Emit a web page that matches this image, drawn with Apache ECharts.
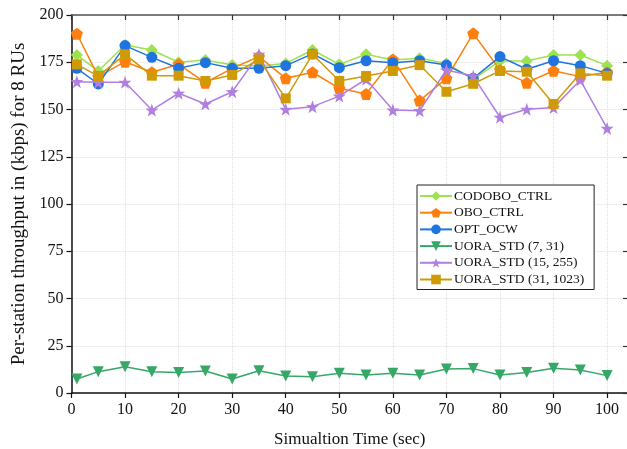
<!DOCTYPE html>
<html>
<head>
<meta charset="utf-8">
<script src="https://cdn.jsdelivr.net/npm/echarts@6/dist/echarts.min.js"></script>
<style>
  html, body { margin: 0; padding: 0; background: #fff; }
  #chart { width: 627px; height: 449px; }
</style>
</head>
<body>
<div id="chart"></div>
<script>
// Simulation time samples (sec)
var times = [1, 5, 10, 15, 20, 25, 30, 35, 40, 45, 50, 55, 60, 65, 70, 75, 80, 85, 90, 95, 100];

// Per-station throughput (kbps) for each scheme
var codoboCtrl = [178.8, 170.4, 184.1, 181.5, 175.0, 176.2, 173.5, 173.0, 174.4, 181.5, 173.9, 179.2, 176.2, 177.1, 174.4, 166.0, 175.7, 175.7, 178.8, 178.8, 173.2];
var oboCtrl    = [190.1, 167.4, 175.3, 169.7, 173.9, 164.2, 171.8, 178.0, 166.5, 169.7, 161.2, 158.2, 176.5, 154.7, 166.5, 190.3, 170.9, 164.2, 170.5, 167.4, 169.7];
var optOcw     = [171.8, 163.5, 183.8, 177.6, 171.8, 174.8, 171.8, 171.8, 173.2, 179.4, 172.1, 175.8, 174.8, 175.8, 173.5, 166.5, 178.0, 171.3, 175.8, 173.2, 169.1];
var uora7      = [7.4, 11.3, 13.9, 11.3, 10.9, 11.6, 7.4, 11.8, 9.0, 8.6, 10.4, 9.5, 10.4, 9.5, 12.7, 12.9, 9.5, 10.9, 13.1, 12.2, 9.2];
var uora15     = [164.7, 164.4, 164.4, 149.7, 158.6, 152.9, 159.4, 179.2, 150.1, 151.5, 157.1, 166.0, 149.7, 149.4, 170.9, 167.7, 145.9, 150.1, 151.0, 165.6, 140.0];
var uora31     = [173.9, 167.7, 179.2, 167.9, 167.9, 165.1, 168.3, 176.5, 155.9, 179.2, 165.1, 167.7, 170.4, 173.5, 159.4, 163.6, 170.4, 170.0, 152.9, 169.1, 167.9];

var seriesNames = ['CODOBO_CTRL', 'OBO_CTRL', 'OPT_OCW', 'UORA_STD (7, 31)', 'UORA_STD (15, 255)', 'UORA_STD (31, 1023)'];
var seriesColors = ['#9de24f', '#ff7f0e', '#1f74e0', '#35a867', '#b07fe0', '#cf9a06'];

var PENTAGON = 'path://M0,-1 L0.951,-0.309 L0.588,0.809 L-0.588,0.809 L-0.951,-0.309 Z';
var STAR = 'path://M0,-1 L0.235,-0.324 L0.951,-0.309 L0.380,0.124 L0.588,0.809 L0,0.4 L-0.588,0.809 L-0.380,0.124 L-0.951,-0.309 L-0.235,-0.324 Z';

var markers = [
  { symbol: 'diamond', size: 12, rotate: 0 },
  { symbol: PENTAGON, size: 12, rotate: 0 },
  { symbol: 'circle', size: 11, rotate: 0 },
  { symbol: 'triangle', size: 11, rotate: 180 },
  { symbol: STAR, size: 13, rotate: 0 },
  { symbol: 'rect', size: 10, rotate: 0 }
];

var values = [codoboCtrl, oboCtrl, optOcw, uora7, uora15, uora31];

function pairs(ys) {
  return times.map(function (t, i) { return [t, ys[i]]; });
}

var FONT = '"Liberation Serif", "DejaVu Serif", serif';
var X_MAX = 103.9;

var series = values.map(function (ys, i) {
  return {
    name: seriesNames[i],
    type: 'line',
    data: pairs(ys),
    symbol: markers[i].symbol,
    symbolSize: markers[i].size,
    symbolRotate: markers[i].rotate,
    showAllSymbol: true,
    color: seriesColors[i],
    lineStyle: { width: 1.5, color: seriesColors[i] },
    itemStyle: { color: seriesColors[i] },
    emphasis: { disabled: true },
    animation: false,
    z: 2 + i
  };
});

var chart = echarts.init(document.getElementById('chart'), null, { renderer: 'canvas' });

chart.setOption({
  backgroundColor: '#ffffff',
  animation: false,
  grid: { left: 71.5, right: -1, top: 15, bottom: 56, containLabel: false, outerBoundsMode: 'none' },
  legend: {
    orient: 'vertical',
    left: 417,
    top: 185,
    padding: [4, 10, 3, 2],
    itemWidth: 32,
    itemHeight: 12,
    itemGap: 2.7,
    backgroundColor: '#ffffff',
    borderColor: '#222',
    borderWidth: 1,
    borderRadius: 0,
    textStyle: { fontFamily: FONT, fontSize: 13.5, lineHeight: 12, color: '#111', padding: [0, 0, 0, -3] },
    data: seriesNames
  },
  xAxis: [
    {
      type: 'value',
      min: 0,
      max: X_MAX,
      interval: 10,
      position: 'bottom',
      name: 'Simualtion Time (sec)',
      nameLocation: 'middle',
      nameGap: 38,
      nameTextStyle: { fontFamily: FONT, fontSize: 17, color: '#111' },
      axisLine: { show: true, onZero: false, lineStyle: { color: '#111', width: 1.5 } },
      axisTick: { show: true, inside: false, length: 5, lineStyle: { color: '#111', width: 1.2 } },
      axisLabel: {
        fontFamily: FONT, fontSize: 16, color: '#111', margin: 9,
        showMaxLabel: false,
        formatter: function (v) { return v <= 100 ? String(v) : ''; }
      },
      splitLine: { show: true, lineStyle: { color: '#dedede', type: 'dotted', width: 1 } }
    },
    {
      type: 'value',
      min: 0,
      max: X_MAX,
      interval: 10,
      position: 'top',
      axisLine: { show: true, onZero: false, lineStyle: { color: '#555', width: 1.5 } },
      axisTick: { show: true, inside: true, length: 5, lineStyle: { color: '#333', width: 1.2 } },
      axisLabel: { show: false },
      splitLine: { show: false }
    }
  ],
  yAxis: [
    {
      type: 'value',
      min: 0,
      max: 200,
      interval: 25,
      position: 'left',
      name: 'Per-station throughput in (kbps) for 8 RUs',
      nameLocation: 'middle',
      nameGap: 41,
      nameTextStyle: { fontFamily: FONT, fontSize: 19, color: '#111' },
      axisLine: { show: true, onZero: false, lineStyle: { color: '#111', width: 1.5 } },
      axisTick: { show: true, inside: false, length: 5, lineStyle: { color: '#111', width: 1.2 } },
      axisLabel: { fontFamily: FONT, fontSize: 16, color: '#111', margin: 8 },
      splitLine: { show: true, lineStyle: { color: '#dedede', type: 'dotted', width: 1 } }
    },
    {
      type: 'value',
      min: 0,
      max: 200,
      interval: 25,
      position: 'right',
      axisLine: { show: true, onZero: false, lineStyle: { color: '#555', width: 1.5 } },
      axisTick: { show: true, inside: true, length: 5, lineStyle: { color: '#333', width: 1.2 } },
      axisLabel: { show: false },
      splitLine: { show: false }
    }
  ],
  series: series
});
</script>
</body>
</html>
